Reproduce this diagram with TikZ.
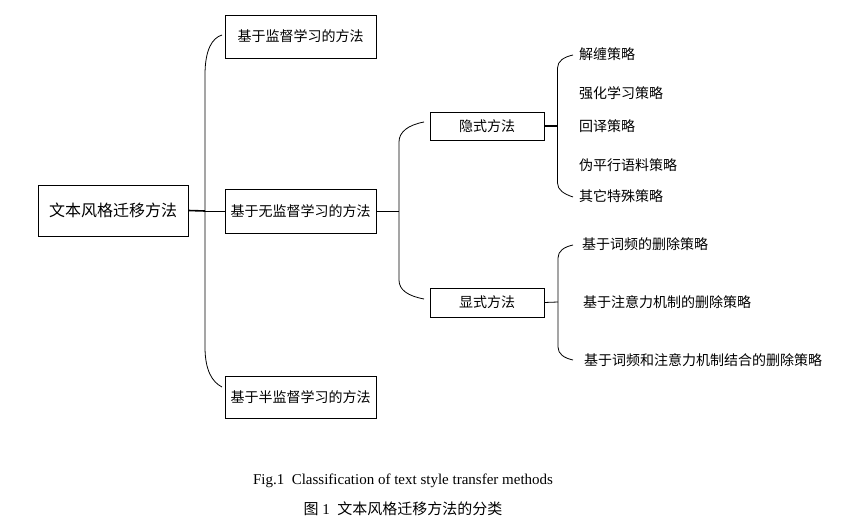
\documentclass[tikz,border=0pt]{standalone}
\usepackage{fontspec}
\setmainfont{Liberation Serif}
\newfontfamily\cjk{Noto Sans CJK SC}
\tikzset{
  box/.style={draw, line width=0.8pt, inner sep=0pt, font=\cjk\fontsize{14}{16}\selectfont},
  leaf/.style={anchor=west, inner sep=0pt, font=\cjk\fontsize{14}{16}\selectfont},
  link/.style={line width=0.8pt},
  boldlink/.style={line width=1.6pt},
}
\begin{document}
\begin{tikzpicture}[x=1pt,y=-1pt]
\useasboundingbox (0,0) rectangle (865,529);
% nodes
\node[box, minimum width=150pt, minimum height=51pt, font=\cjk\fontsize{16}{18}\selectfont] (root) at (113,210.5) {文本风格迁移方法};
\node[box, minimum width=151pt, minimum height=43pt] (sup) at (300.5,36.5) {基于监督学习的方法};
\node[box, minimum width=151pt, minimum height=44pt] (unsup) at (300.5,211) {基于无监督学习的方法};
\node[box, minimum width=151pt, minimum height=42pt] (semi) at (300.5,397) {基于半监督学习的方法};
\node[box, minimum width=114pt, minimum height=28pt] (imp) at (487,126) {隐式方法};
\node[box, minimum width=114pt, minimum height=29pt] (exp) at (487,302.5) {显式方法};
\node[leaf] (l1) at (579,54) {解缠策略};
\node[leaf] (l2) at (579,93) {强化学习策略};
\node[leaf] (l3) at (579,126) {回译策略};
\node[leaf] (l4) at (579,165) {伪平行语料策略};
\node[leaf] (l5) at (579,196) {其它特殊策略};
\node[leaf] (m1) at (582,244) {基于词频的删除策略};
\node[leaf] (m2) at (583,302) {基于注意力机制的删除策略};
\node[leaf] (m3) at (584,360) {基于词频和注意力机制结合的删除策略};
% caption
\node[inner sep=0pt, font=\fontsize{15}{18}\selectfont] (capen) at (403,481) {Fig.1\enspace Classification of text style transfer methods};
\node[inner sep=0pt, font=\fontsize{15}{18}\selectfont] (capzh) at (403,509) {{\cjk 图} 1\enspace{\cjk 文本风格迁移方法的分类}};
% bracket coordinates
\coordinate (b1) at (205,211);
\coordinate (b1t) at (222,35);
\coordinate (b1b) at (222,387);
\coordinate (b2) at (399,211);
\coordinate (b2t) at (424,122);
\coordinate (b2b) at (424,299);
\coordinate (b3) at (557.5,126);
\coordinate (b3t) at (573,55);
\coordinate (b3b) at (573,197);
\coordinate (b4) at (558,302);
\coordinate (b4t) at (573,245);
\coordinate (b4b) at (573,360);
% level 1
\draw[boldlink] (root.east) -- (b1);
\draw[link] (b1) -- (unsup.west);
\draw[link] (b1t) .. controls (212,38) and (205,50) .. (205,75) -- (205,347) .. controls (205,370) and (212,382) .. (b1b);
% level 2
\draw[link] (unsup.east) -- (b2);
\draw[link] (b2t) .. controls (408,125) and (399,132) .. (399,142) -- (399,280) .. controls (399,290) and (408,296) .. (b2b);
% level 3
\draw[boldlink] (imp.east) -- (b3);
\draw[link] (b3t) .. controls (564,57) and (557.5,61) .. (557.5,68) -- (557.5,183) .. controls (557.5,190) and (564,194) .. (b3b);
\draw[link] (exp.east) -- (b4);
\draw[link] (b4t) .. controls (564,247) and (558,251) .. (558,258) -- (558,347) .. controls (558,354) and (564,358) .. (b4b);
\end{tikzpicture}
\end{document}
